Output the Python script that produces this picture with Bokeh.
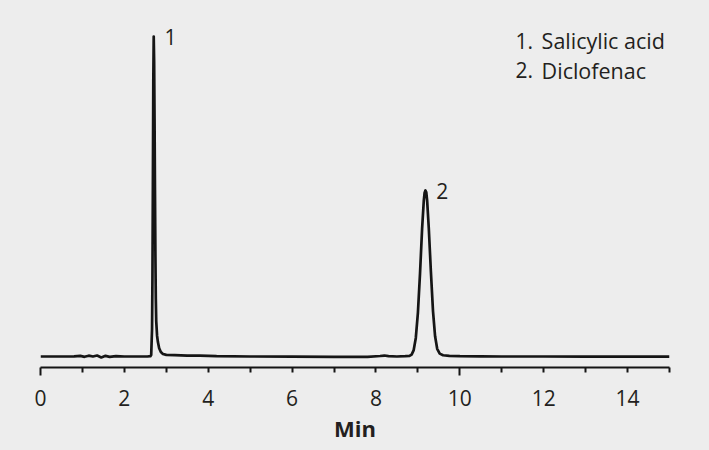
from bokeh.plotting import figure
from bokeh.models import Range1d, LinearAxis, FixedTicker
from bokeh.core.properties import value
from bokeh.embed import file_html
from bokeh.resources import INLINE

# ---- data ----
time_min = [0.00, 0.40, 0.80, 0.95, 1.05, 1.15, 1.25, 1.35, 1.45, 1.55, 1.65, 1.80,
            2.00, 2.30, 2.55, 2.62, 2.64, 2.66, 2.67, 2.68, 2.69, 2.70, 2.71, 2.72,
            2.73, 2.74, 2.75, 2.76, 2.78, 2.80, 2.83, 2.87, 2.92, 3.00, 3.20, 3.50,
            3.80, 4.20, 5.00, 6.00, 7.00, 7.80, 8.10, 8.20, 8.30, 8.50, 8.70, 8.80,
            8.85, 8.90, 8.95, 9.00, 9.05, 9.10, 9.14, 9.16, 9.18, 9.20, 9.22, 9.26,
            9.31, 9.36, 9.41, 9.46, 9.52, 9.60, 9.75, 10.0, 10.5, 11.0, 12.0, 13.0,
            14.0, 15.0]
signal = [0.00, 0.00, 0.05, 0.20, -0.10, 0.25, 0.00, 0.30, -0.30, 0.20, -0.10, 0.10,
          0.00, 0.00, 0.00, 0.10, 0.50, 8.5, 25.0, 54.0, 86.0, 100.0, 92.0, 74.0,
          52.0, 32.0, 18.0, 11.0, 6.5, 4.5, 2.6, 1.4, 0.8, 0.5, 0.4, 0.3,
          0.3, 0.1, 0.0, -0.05, -0.10, -0.10, 0.15, 0.30, 0.10, 0.00, 0.10, 0.20,
          0.6, 2.0, 5.8, 13.6, 25.8, 39.9, 48.6, 51.2, 51.9, 51.3, 48.8, 40.0,
          26.5, 14.2, 6.3, 2.4, 0.9, 0.4, 0.2, 0.1, 0.05, 0.0, 0.0, -0.05,
          -0.05, -0.05]

peak_numbers = ["1", "2"]
peak_times = [2.70, 9.18]
peak_heights = [100.0, 51.9]

compound_numbers = ["1.", "2."]
compound_names = ["Salicylic acid", "Diclofenac"]

label_ticks = [0, 2, 4, 6, 8, 10, 12, 14]
long_ticks = [0, 10]
short_ticks = [1, 2, 3, 4, 5, 6, 7, 8, 9, 11, 12, 13, 14, 15]

# ---- styling ----
BG = "#ededed"
INK = "#151515"
TXT = "#231f20"
FONT = "Open Sans"

p = figure(width=709, height=450, output_backend="svg", toolbar_location=None,
           x_range=Range1d(0, 15), y_range=Range1d(-3.4375, 105.625),
           x_axis_location=None, y_axis_location=None,
           min_border_left=40, min_border_right=40, min_border_top=18,
           min_border_bottom=83,
           background_fill_color=BG, border_fill_color=BG,
           outline_line_color=None)
p.xgrid.visible = False
p.ygrid.visible = False

p.line(time_min, signal, line_color=INK, line_width=2.7, line_join="round")

# peak numbers next to apexes
p.text(x=[t + 0.40 for t in peak_times], y=[h - 0.3 for h in peak_heights],
       text=peak_numbers, text_font=value(FONT), text_font_size="21px",
       text_align="center", text_baseline="middle", text_color=TXT)

# compound list
leg_y = [98.75, 89.4]
p.text(x=[11.33] * 2, y=leg_y, text=compound_numbers, text_font=value(FONT),
       text_font_size="21px", text_align="left", text_baseline="middle", text_color=TXT)
p.text(x=[11.95] * 2, y=leg_y, text=compound_names, text_font=value(FONT),
       text_font_size="21.5px", text_align="left", text_baseline="middle", text_color=TXT)

# axis with long/short ticks
tick_axis = LinearAxis(ticker=FixedTicker(ticks=long_ticks, minor_ticks=short_ticks),
                       axis_line_width=2, axis_line_color=INK,
                       major_tick_line_width=2, minor_tick_line_width=2,
                       major_tick_line_color=INK, minor_tick_line_color=INK,
                       major_tick_out=8, major_tick_in=0, minor_tick_out=5, minor_tick_in=0,
                       major_label_text_font_size="0px", major_label_standoff=0,
                       major_label_overrides={0: "", 10: ""})
# axis carrying labels
label_axis = LinearAxis(ticker=FixedTicker(ticks=label_ticks, minor_ticks=[]),
                        axis_line_color=None, major_tick_line_color=None,
                        minor_tick_line_color=None, major_tick_out=0, major_tick_in=0,
                        minor_tick_out=0, minor_tick_in=0,
                        major_label_text_font=FONT, major_label_text_font_size="21px",
                        major_label_text_color=TXT, major_label_standoff=14,
                        axis_label="Min", axis_label_text_font=FONT,
                        axis_label_text_font_style="bold", axis_label_text_font_size="22px",
                        axis_label_text_color=TXT, axis_label_standoff=4)
p.add_layout(tick_axis, "below")
p.add_layout(label_axis, "below")

html = file_html(p, INLINE)
html = html.replace("</head>", "<style>html, body { background: #ededed; }</style></head>", 1)
open("out.html", "w").write(html)
